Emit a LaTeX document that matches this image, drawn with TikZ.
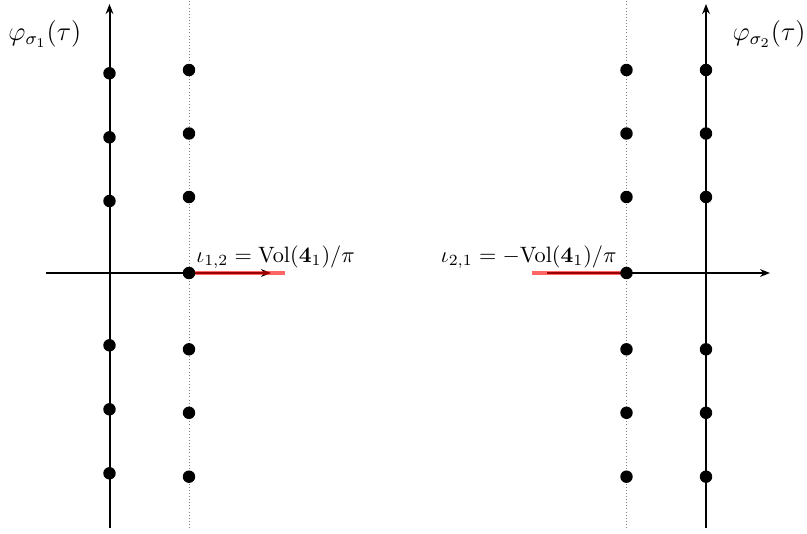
\documentclass[tikz,border=0pt]{standalone}
\usetikzlibrary{arrows.meta}
\begin{document}
\begin{tikzpicture}[x=0.45pt,y=-0.45pt,
  dot/.style={circle,fill=black,inner sep=0pt,minimum size=5.6pt},
  axisline/.style={line width=0.9pt,-{Stealth[length=4.5pt,width=3.5pt]}},
  guide/.style={densely dotted,gray,line width=0.4pt},
  redline/.style={red,opacity=0.6,line width=2pt},
  lbl/.style={inner sep=0pt}]
\useasboundingbox (0,0) rectangle (807,534);
% guides
\coordinate (g1t) at (189,0); \coordinate (g1b) at (189,528);
\coordinate (g2t) at (626.5,0); \coordinate (g2b) at (626.5,528);
\draw[guide] (g1b) -- (g1t);
\draw[guide] (g2b) -- (g2t);
% red lines
\coordinate (r1a) at (189,273); \coordinate (r1b) at (285,273);
\coordinate (r2a) at (532,273); \coordinate (r2b) at (626.5,273);
% left axes
\coordinate (h1a) at (46,273); \coordinate (h1b) at (271,273);
\coordinate (v1a) at (109.5,528); \coordinate (v1b) at (109.5,4);
\draw[axisline] (h1a) -- (h1b);
\draw[axisline] (v1a) -- (v1b);
% right axes
\coordinate (h2a) at (547,273); \coordinate (h2b) at (770,273);
\coordinate (v2a) at (706,528); \coordinate (v2b) at (706,4);
\draw[axisline] (h2a) -- (h2b);
\draw[axisline] (v2a) -- (v2b);
\draw[redline] (r1a) -- (r1b);
\draw[redline] (r2a) -- (r2b);
% dots left axis
\foreach \y [count=\i] in {73.3,137.3,201,345.3,409.3,473.3}
  \node[dot] (la\i) at (109.5,\y) {};
% dots guide lines
\foreach \y [count=\i] in {70,133.5,197,273,349.3,412.8,476.7}{
  \node[dot] (lg\i) at (189,\y) {};
  \node[dot] (rg\i) at (626.5,\y) {};
}
\foreach \y [count=\i] in {70,133.5,197,349.3,412.8,476.7}
  \node[dot] (ra\i) at (706,\y) {};
% labels
\node[lbl,anchor=base west] (phi1) at (8,41) {\large$\varphi_{\sigma_1}(\tau)$};
\node[lbl,anchor=base east] (phi2) at (806,41) {\large$\varphi_{\sigma_2}(\tau)$};
\node[lbl,anchor=base west] (i12) at (196,262) {$\iota_{1,2}=\mathrm{Vol}(\mathbf{4}_1)/\pi$};
\node[lbl,anchor=base east] (i21) at (617,262) {$\iota_{2,1}=-\mathrm{Vol}(\mathbf{4}_1)/\pi$};
\end{tikzpicture}
\end{document}
